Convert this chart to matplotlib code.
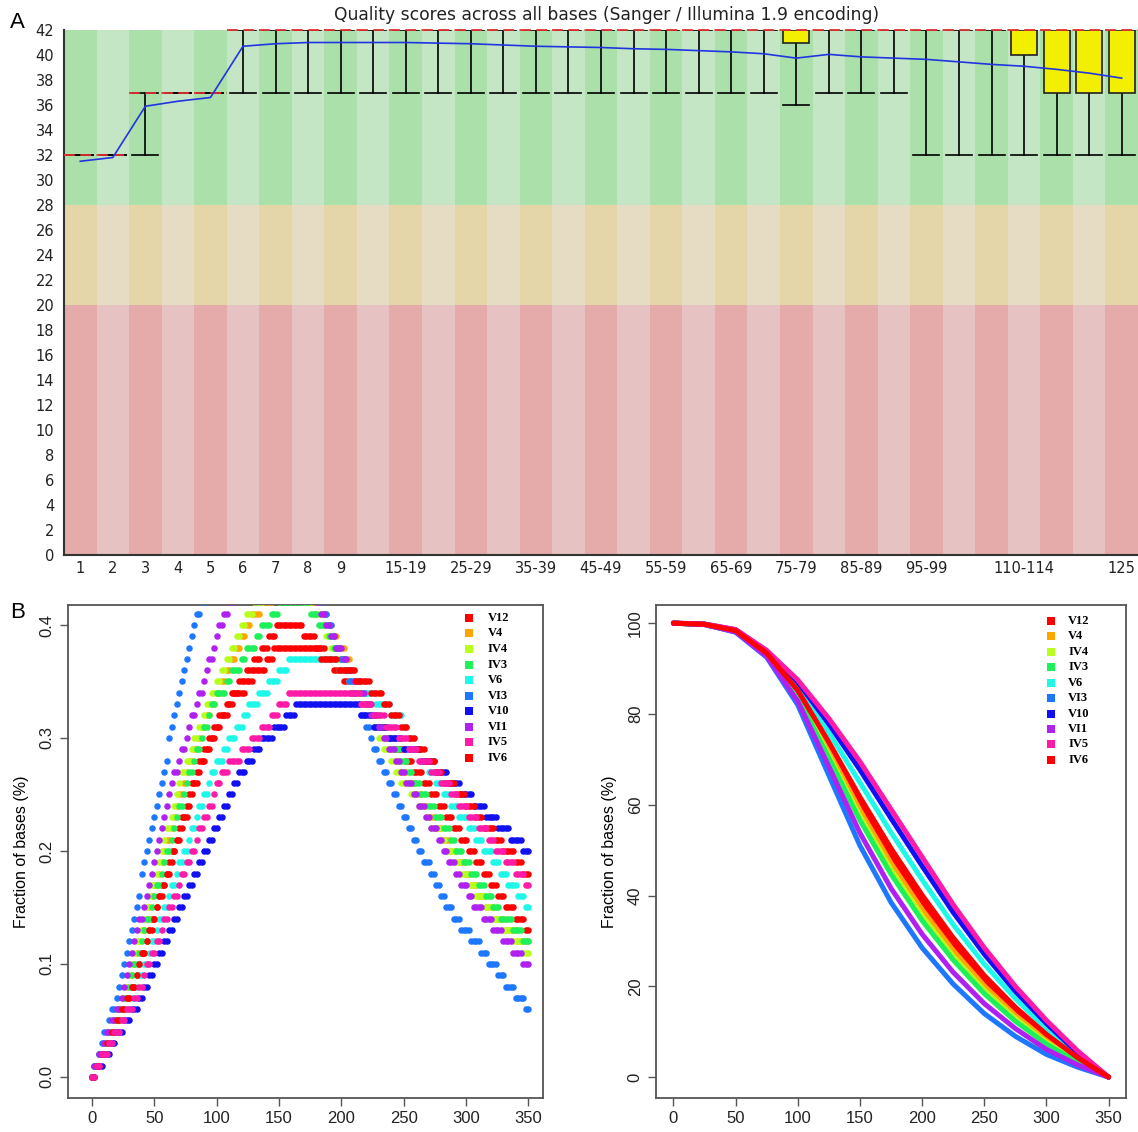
import numpy as np
import matplotlib
matplotlib.use("Agg")
import matplotlib.pyplot as plt
from matplotlib.patches import Rectangle

# ---------------- Panel A data (FastQC per-base quality) ----------------
bin_labels = ['1', '2', '3', '4', '5', '6', '7', '8', '9', '10-14', '15-19', '20-24', '25-29',
              '30-34', '35-39', '40-44', '45-49', '50-54', '55-59', '60-64', '65-69', '70-74',
              '75-79', '80-84', '85-89', '90-94', '95-99', '100-104', '105-109', '110-114',
              '115-119', '120-124', '125']
shown_labels = ['1', '2', '3', '4', '5', '6', '7', '8', '9', '15-19', '25-29', '35-39', '45-49',
                '55-59', '65-69', '75-79', '85-89', '95-99', '110-114', '125']
mean_q = [31.5, 31.8, 35.9, 36.3, 36.6, 40.7, 40.9, 41.0, 41.0, 41.0, 41.0, 40.95, 40.9, 40.8,
          40.7, 40.65, 40.6, 40.5, 40.45, 40.35, 40.25, 40.1, 39.75, 40.05, 39.85, 39.75, 39.65,
          39.45, 39.25, 39.1, 38.85, 38.55, 38.15]
median_q = [32, 32, 37, 37, 37] + [42] * 28
q1 = [32, 32, 37, 37, 37] + [42] * 17 + [41] + [42] * 6 + [40, 37, 37, 37]
q3 = [32, 32, 37, 37, 37] + [42] * 28
p10 = [32, 32, 32, 37, 37] + [37] * 17 + [36, 37, 37, 37] + [32] * 7
p90 = [32, 32, 37, 37, 37] + [42] * 28

# ---------------- Panel B data ----------------
samples = ['V12', 'V4', 'IV4', 'IV3', 'V6', 'VI3', 'V10', 'VI1', 'IV5', 'IV6']
colors = {'V12': '#FF0000', 'V4': '#FFA500', 'IV4': '#B8FF1E', 'IV3': '#1EF05A',
          'V6': '#1EF8E8', 'VI3': '#1E78FF', 'V10': '#1010F0', 'VI1': '#B020F0',
          'IV5': '#FF1AA8', 'IV6': '#FF0000'}

# length-distribution outline knots, dots are quantised to 0.01
dist_knots_x = {
    'VI3': [0, 20, 58, 67, 85, 110, 165, 187, 234, 285, 350],
    'VI1': [0, 24, 67, 84, 106, 130, 170, 184, 249, 308, 350],
    'IV4': [0, 25, 73, 90, 125, 140, 165, 180, 245, 317, 350],
    'V4':  [0, 26, 76, 93, 130, 150, 172, 186, 250, 318, 350],
    'IV3': [0, 27, 79, 97, 145, 155, 170, 186, 255, 323, 350],
    'V12': [0, 30, 84, 108, 150, 163, 176, 261, 335, 350],
    'IV6': [0, 30, 86, 110, 150, 175, 205, 229, 270, 350],
    'V6':  [0, 33, 97, 128, 161, 191, 232, 246, 277, 350],
    'V10': [0, 40, 119, 139, 160, 167, 212, 218, 281, 350],
    'IV5': [0, 35, 105, 132, 153, 161, 212, 218, 231, 275, 350],
}
dist_knots_y = {
    'VI3': [0, .07, .27, .33, .41, .47, .47, .41, .27, .15, .06],
    'VI1': [0, .07, .27, .33, .41, .46, .46, .41, .27, .15, .10],
    'IV4': [0, .07, .27, .32, .41, .43, .43, .41, .27, .15, .11],
    'V4':  [0, .07, .27, .32, .41, .43, .43, .41, .27, .15, .115],
    'IV3': [0, .07, .27, .33, .41, .42, .42, .40, .27, .15, .12],
    'V12': [0, .07, .27, .33, .40, .40, .39, .27, .15, .13],
    'IV6': [0, .07, .27, .33, .38, .38, .36, .34, .28, .18],
    'V6':  [0, .07, .27, .33, .37, .37, .33, .32, .26, .15],
    'V10': [0, .07, .27, .30, .32, .33, .33, .32, .27, .20],
    'IV5': [0, .07, .27, .30, .33, .34, .34, .33, .32, .27, .17],
}
read_lengths = np.arange(0, 351, 2)

# cumulative curves (fraction of bases, %), read every 25 bp
cum_x = [0, 25, 50, 75, 100, 125, 150, 175, 200, 225, 250, 275, 300, 325, 350]
cum_y = {
    'VI3': [100, 99.7, 98.0, 92.5, 82.0, 66.5, 51.0, 38.5, 28.5, 20.5, 14.0, 9.0, 5.0, 2.2, 0],
    'VI1': [100, 99.7, 98.1, 92.7, 82.8, 68.4, 53.8, 41.6, 31.5, 23.1, 16.2, 10.7, 6.1, 2.7, 0],
    'IV3': [100, 99.7, 98.2, 93.0, 83.7, 70.3, 56.6, 44.7, 34.5, 25.8, 18.4, 12.3, 7.3, 3.3, 0],
    'IV4': [100, 99.7, 98.2, 93.0, 83.9, 70.9, 57.5, 45.7, 35.5, 26.6, 19.1, 12.9, 7.6, 3.5, 0],
    'V4':  [100, 99.7, 98.3, 93.1, 84.3, 71.8, 58.8, 47.1, 36.9, 27.9, 20.1, 13.6, 8.2, 3.7, 0],
    'V12': [100, 99.75, 98.3, 93.3, 84.8, 72.8, 60.3, 48.8, 38.5, 29.3, 21.3, 14.5, 8.8, 4.0, 0],
    'IV6': [100, 99.75, 98.35, 93.4, 85.2, 73.8, 61.7, 50.4, 40.1, 30.7, 22.4, 15.4, 9.4, 4.3, 0],
    'V6':  [100, 99.8, 98.45, 93.6, 86.1, 75.9, 64.9, 53.9, 43.5, 33.6, 24.9, 17.3, 10.6, 4.9, 0],
    'V10': [100, 99.8, 98.55, 93.9, 87.0, 77.8, 67.7, 57.0, 46.5, 36.3, 27.1, 18.9, 11.8, 5.4, 0],
    'IV5': [100, 99.8, 98.6, 94.0, 87.5, 79.0, 69.5, 59.0, 48.5, 38.0, 28.5, 20.0, 12.5, 5.8, 0],
}

W, H = 1138, 1132
fig = plt.figure(figsize=(W / 100, H / 100), dpi=100)


def frac(px_l, py_t, px_r, py_b):
    return [px_l / W, 1 - py_b / H, (px_r - px_l) / W, (py_b - py_t) / H]


# ================= Panel A =================
axA = fig.add_axes(frac(64, 30, 1138, 555))
n = len(bin_labels)
xs = np.arange(1, n + 1)
bands = [(0, 20, '#E5AAAA', '#E6C2C2'), (20, 28, '#E5D6AA', '#E6DCC4'), (28, 42, '#ABE0AB', '#C5E6C5')]
for i in xs:
    for lo, hi, dark, light in bands:
        axA.add_patch(Rectangle((i - 0.5, lo), 1, hi - lo, facecolor=dark if i % 2 == 1 else light,
                                edgecolor='none', zorder=0))
for i, x in enumerate(xs):
    axA.plot([x, x], [p10[i], q1[i]], color='black', lw=1.2, zorder=2)
    axA.plot([x, x], [q3[i], p90[i]], color='black', lw=1.2, zorder=2)
    axA.plot([x - 0.4, x + 0.4], [p10[i], p10[i]], color='black', lw=1.2, zorder=2)
    axA.plot([x - 0.4, x + 0.4], [p90[i], p90[i]], color='black', lw=1.2, zorder=2)
    if q3[i] > q1[i]:
        axA.add_patch(Rectangle((x - 0.4, q1[i]), 0.8, q3[i] - q1[i], facecolor='#F2F000',
                                edgecolor='#222222', lw=1.2, zorder=3))
    axA.plot([x - 0.5, x + 0.5], [median_q[i], median_q[i]], color='#E03030', lw=1.3,
             dashes=(6, 3), zorder=4, clip_on=False)
axA.plot(xs, mean_q, color='#2035E0', lw=1.2, zorder=5)
axA.set_xlim(0.5, n + 0.5)
axA.set_ylim(0, 42)
axA.set_yticks(range(0, 43, 2))
axA.set_yticklabels([str(v) for v in range(0, 43, 2)], fontsize=10.5, family='DejaVu Sans')
tick_pos = [bin_labels.index(l) + 1 for l in shown_labels]
axA.set_xticks(tick_pos)
axA.set_xticklabels(shown_labels, fontsize=10.5, family='DejaVu Sans')
axA.tick_params(axis='both', length=0, colors='#222222')
axA.tick_params(axis='y', pad=7)
axA.tick_params(axis='x', pad=4)
for s in ['top', 'right']:
    axA.spines[s].set_visible(False)
for s in ['left', 'bottom']:
    axA.spines[s].set_color('#333333')
    axA.spines[s].set_linewidth(1.5)
fig.text(607 / W, 1 - 15 / H, 'Quality scores across all bases (Sanger / Illumina 1.9 encoding)',
         ha='center', va='center', fontsize=12.3, family='DejaVu Sans', color='#222222')
fig.text(10 / W, 1 - 22 / H, 'A', ha='left', va='center', fontsize=16, family='Liberation Sans')
fig.text(10 / W, 1 - 612 / H, 'B', ha='left', va='center', fontsize=16, family='Liberation Sans')


def r_style(ax):
    for s in ax.spines.values():
        s.set_color('#555555')
        s.set_linewidth(1.3)
    ax.tick_params(direction='out', length=6, width=1.0, color='#555555', labelsize=12,
                   labelcolor='#222222')
    for lab in ax.get_xticklabels() + ax.get_yticklabels():
        lab.set_family('Liberation Sans')
    for lab in ax.get_yticklabels():
        lab.set_rotation(90)
        lab.set_va('center')


def legend(ax, fx_marker, fx_text, fy0, step):
    for k, name in enumerate(samples):
        y = fy0 - k * step
        ax.scatter([fx_marker], [y], marker='s', s=28, color=colors[name], transform=ax.transAxes,
                   clip_on=False, zorder=10, linewidths=0)
        ax.text(fx_text, y, name, transform=ax.transAxes, va='center', ha='left', fontsize=9,
                family='Liberation Serif', fontweight='bold', zorder=10)


# ================= Panel B left =================
axL = fig.add_axes(frac(68, 605, 543, 1098))
draw_order = ['V12', 'V4', 'IV4', 'IV3', 'V6', 'VI3', 'V10', 'VI1', 'IV6', 'IV5']
for name in draw_order:
    yv = np.round(np.interp(read_lengths, dist_knots_x[name], dist_knots_y[name]), 2)
    axL.scatter(read_lengths, yv, s=22, color=colors[name], linewidths=0, zorder=3)
axL.set_xlim(-19.2, 361.7)
axL.set_ylim(-0.0186, 0.4177)
axL.set_xticks(range(0, 351, 50))
axL.set_yticks([0.0, 0.1, 0.2, 0.3, 0.4])
axL.set_yticklabels(['0.0', '0.1', '0.2', '0.3', '0.4'])
axL.set_ylabel('Fraction of bases (%)', fontsize=11.5, family='Liberation Sans', labelpad=8)
r_style(axL)
legend(axL, 0.844, 0.884, 0.974, 0.0316)

# ================= Panel B right =================
axR = fig.add_axes(frac(656, 605, 1126, 1098))
for name in samples:
    axR.plot(cum_x, cum_y[name], color=colors[name], lw=3.6, solid_capstyle='round', zorder=3)
axR.set_xlim(-14, 364)
axR.set_ylim(-4.6, 104)
axR.set_xticks(range(0, 351, 50))
axR.set_yticks(range(0, 101, 20))
axR.set_ylabel('Fraction of bases (%)', fontsize=11.5, family='Liberation Sans', labelpad=8)
r_style(axR)
legend(axR, 0.84, 0.877, 0.9675, 0.0313)

fig.savefig('out.png', dpi=100)
